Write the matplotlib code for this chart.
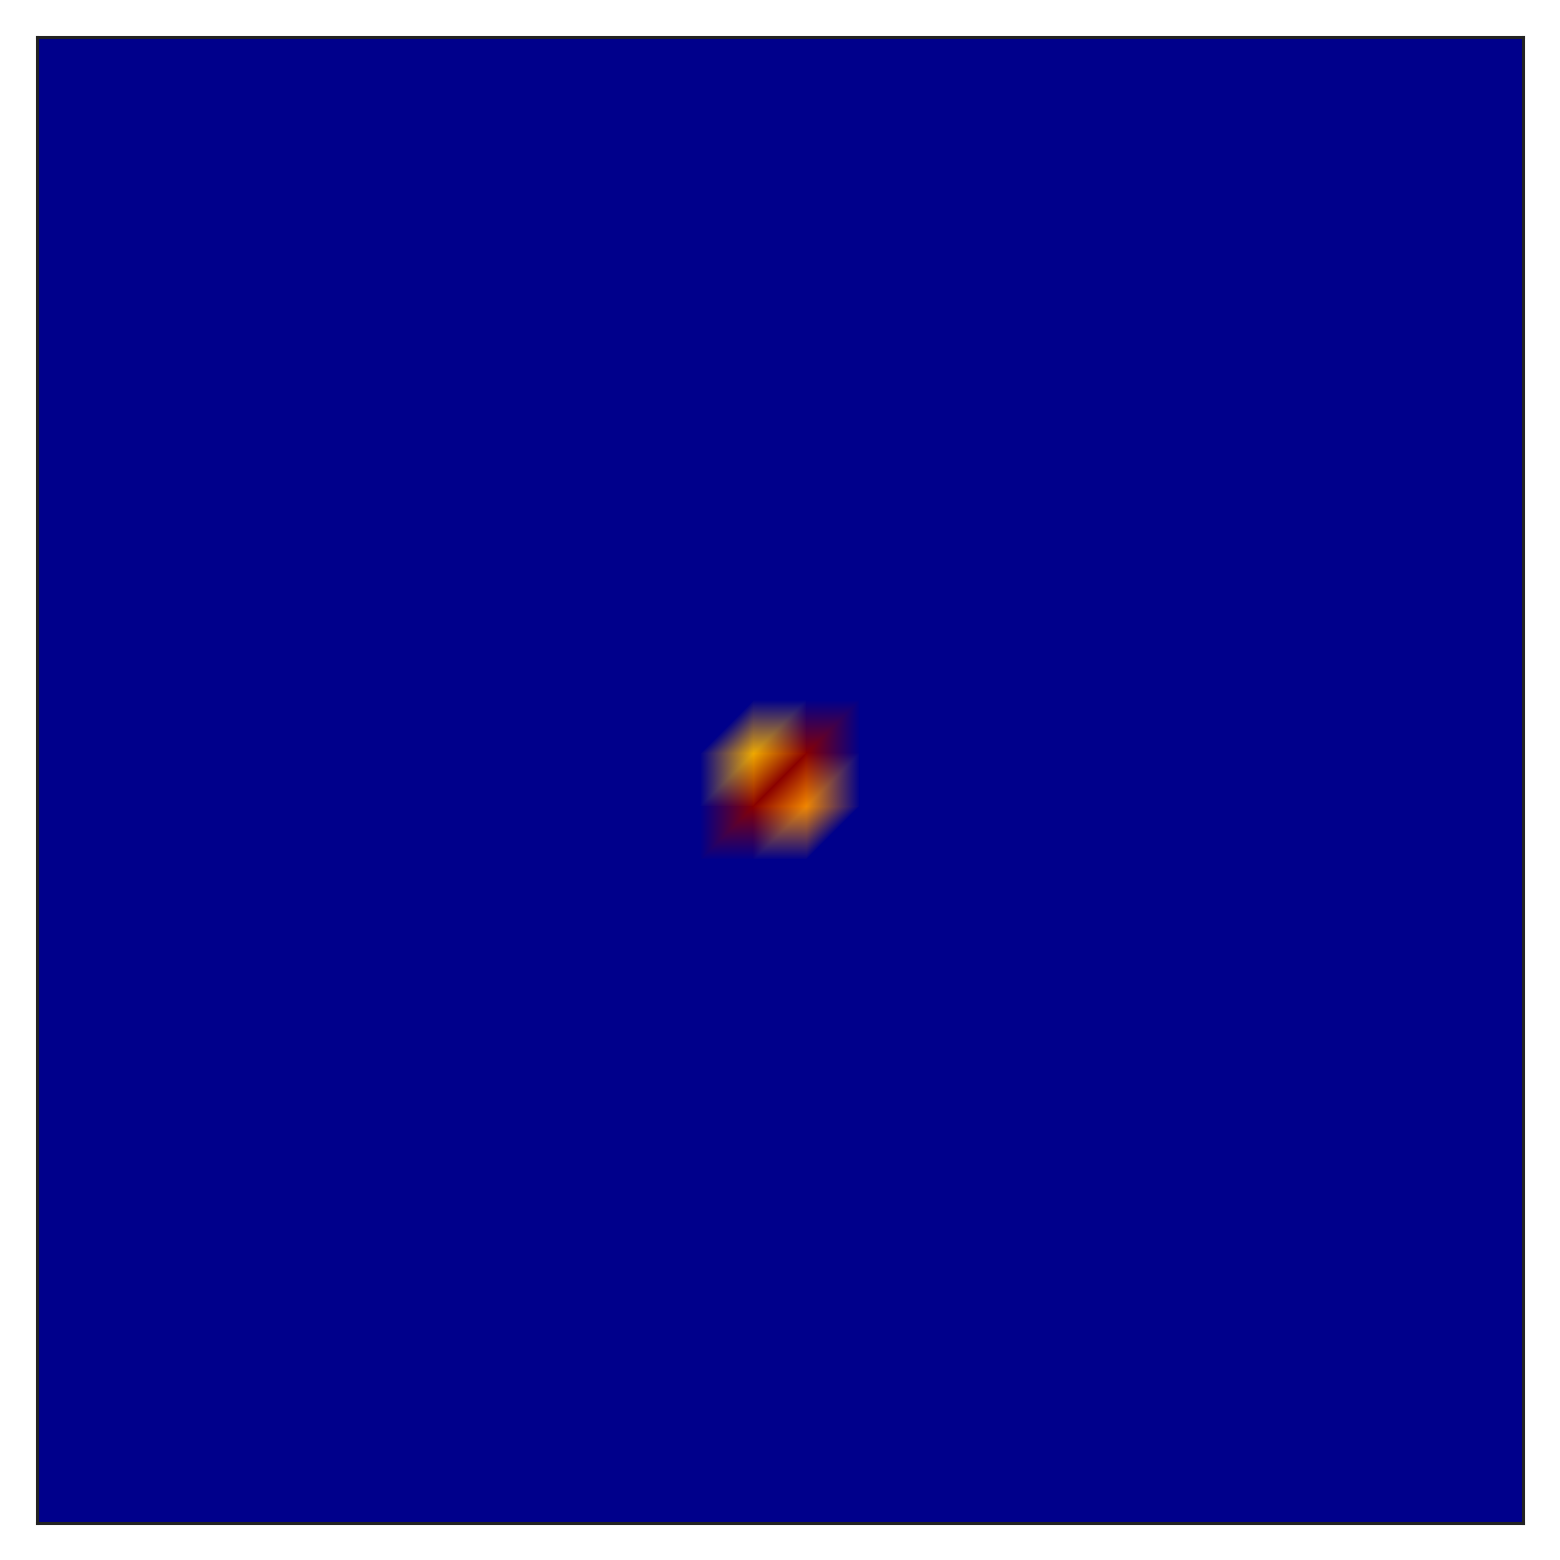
import matplotlib
matplotlib.use('Agg')
import matplotlib.pyplot as plt
import matplotlib.tri as mtri
from matplotlib.colors import LinearSegmentedColormap
import numpy as np

# grid of 28 x 28 nodes, almost everything at the floor value
n_nodes = 28
background = 0.0

# the few non-zero nodes (row from top, column from left)
peak_rows = [13, 14, 13, 14]
peak_cols = [13, 14, 14, 13]
peak_vals = [1.0, 0.86, 0.45, 0.45]

z = np.full((n_nodes, n_nodes), background)
for r, c, v in zip(peak_rows, peak_cols, peak_vals):
    z[r, c] = v

# triangulate each cell along its anti-diagonal
cols, rows = np.meshgrid(np.arange(n_nodes), np.arange(n_nodes))
x = cols.ravel().astype(float)
y = rows.ravel().astype(float)
tris = []
for i in range(n_nodes - 1):
    for j in range(n_nodes - 1):
        tl = i * n_nodes + j
        tr = tl + 1
        bl = tl + n_nodes
        br = bl + 1
        tris.append([tl, tr, bl])
        tris.append([tr, br, bl])
triang = mtri.Triangulation(x, y, np.array(tris))

cmap = LinearSegmentedColormap.from_list(
    'blob', [(0.0, '#00008b'), (0.45, '#8b0000'), (0.86, '#f48800'), (1.0, '#f2ac00')])

fig = plt.figure(figsize=(15.6, 15.6), dpi=100)
ax = fig.add_axes([37 / 1560, 37 / 1560, 1486 / 1560, 1486 / 1560])
ax.set_facecolor(cmap(0.0))
ax.tripcolor(triang, z.ravel(), shading='gouraud', cmap=cmap, vmin=0, vmax=1)
ax.set_xlim(-0.5, n_nodes - 0.5)
ax.set_ylim(n_nodes - 0.5, -0.5)
ax.set_xticks([])
ax.set_yticks([])
for s in ax.spines.values():
    s.set_color('#222222')
    s.set_linewidth(2.2)

fig.savefig('out.png', dpi=100)
